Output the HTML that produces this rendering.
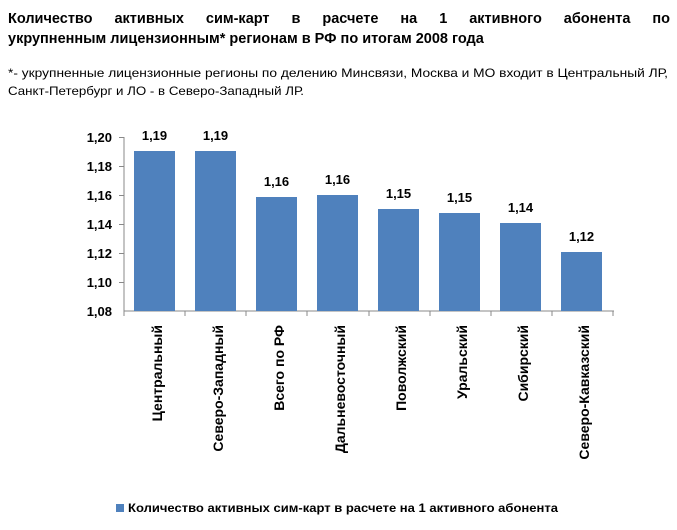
<!DOCTYPE html>
<html><head><meta charset="utf-8"><style>
body{margin:0;background:#fff;width:677px;height:530px;overflow:hidden;font-family:"Liberation Sans","DejaVu Sans",sans-serif;}
.t{position:absolute;left:8px;width:662px;font-weight:bold;font-size:14.5px;line-height:20px;text-align:justify;text-align-last:justify;color:#000;}
</style></head><body>
<div class="t" style="top:9px">Количество активных сим-карт в расчете на 1 активного абонента по</div>
<div class="t" style="top:29px;text-align-last:left">укрупненным лицензионным* регионам в РФ по итогам 2008 года</div>
<svg width="677" height="530" style="position:absolute;left:0;top:0" font-family="Liberation Sans, DejaVu Sans, sans-serif">
<text x="8" y="77" font-size="12" textLength="660" lengthAdjust="spacingAndGlyphs">*- укрупненные лицензионные регионы по делению Минсвязи, Москва и МО входит в Центральный ЛР,</text>
<text x="8" y="95" font-size="12" textLength="296" lengthAdjust="spacingAndGlyphs">Санкт-Петербург и ЛО - в Северо-Западный ЛР.</text>
<g stroke="#888" stroke-width="1">
<line x1="124" y1="137" x2="124" y2="311"/>
<line x1="124" y1="311" x2="614" y2="311"/>
<line x1="119" y1="137.5" x2="124" y2="137.5"/><line x1="119" y1="166.5" x2="124" y2="166.5"/><line x1="119" y1="195.5" x2="124" y2="195.5"/><line x1="119" y1="224.5" x2="124" y2="224.5"/><line x1="119" y1="253.5" x2="124" y2="253.5"/><line x1="119" y1="282.5" x2="124" y2="282.5"/>
<line x1="124" y1="311" x2="124" y2="316"/><line x1="185" y1="311" x2="185" y2="316"/><line x1="246" y1="311" x2="246" y2="316"/><line x1="307" y1="311" x2="307" y2="316"/><line x1="369" y1="311" x2="369" y2="316"/><line x1="430" y1="311" x2="430" y2="316"/><line x1="491" y1="311" x2="491" y2="316"/><line x1="552" y1="311" x2="552" y2="316"/><line x1="613" y1="311" x2="613" y2="316"/>
</g>
<g font-size="13" font-weight="bold" text-anchor="end">
<text x="112" y="142">1,20</text><text x="112" y="171">1,18</text><text x="112" y="200">1,16</text><text x="112" y="229">1,14</text><text x="112" y="258">1,12</text><text x="112" y="287">1,10</text><text x="112" y="316">1,08</text>
</g>
<g fill="#4F81BD">
<rect x="134" y="151" width="41" height="160"/>
<rect x="195" y="151" width="41" height="160"/>
<rect x="256" y="197" width="41" height="114"/>
<rect x="317" y="195" width="41" height="116"/>
<rect x="378" y="209" width="41" height="102"/>
<rect x="439" y="213" width="41" height="98"/>
<rect x="500" y="223" width="41" height="88"/>
<rect x="561" y="252" width="41" height="59"/>
</g>
<g font-size="13" font-weight="bold" text-anchor="middle">
<text x="154.5" y="140">1,19</text><text x="215.5" y="140">1,19</text><text x="276.5" y="186">1,16</text><text x="337.5" y="184">1,16</text><text x="398.5" y="198">1,15</text><text x="459.5" y="202">1,15</text><text x="520.5" y="212">1,14</text><text x="581.5" y="241">1,12</text>
</g>
<g font-size="14" font-weight="bold" text-anchor="end">
<text transform="translate(162,325) rotate(-90)">Центральный</text>
<text transform="translate(223,325) rotate(-90)">Северо-Западный</text>
<text transform="translate(284,325) rotate(-90)">Всего по РФ</text>
<text transform="translate(345,325) rotate(-90)">Дальневосточный</text>
<text transform="translate(406,325) rotate(-90)">Поволжский</text>
<text transform="translate(467,325) rotate(-90)">Уральский</text>
<text transform="translate(528,325) rotate(-90)">Сибирский</text>
<text transform="translate(589,325) rotate(-90)">Северо-Кавказский</text>
</g>
<rect x="116" y="504" width="8" height="8" fill="#4F81BD"/>
<text x="128" y="512" font-size="12" font-weight="bold" textLength="430" lengthAdjust="spacingAndGlyphs">Количество активных сим-карт в расчете на 1 активного абонента</text>
</svg>
</body></html>
